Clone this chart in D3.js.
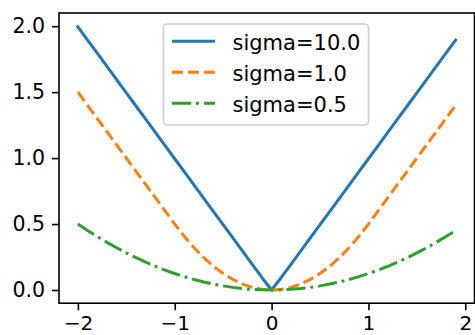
<!DOCTYPE html>
<html>
<head>
<meta charset="utf-8">
<script src="https://cdn.jsdelivr.net/npm/d3@7"></script>
<style>
  html, body { margin: 0; padding: 0; background: #fff; }
  svg { display: block; }
  text { font-family: "DejaVu Sans", sans-serif; fill: #000; }
</style>
</head>
<body>
<svg id="chart" width="475" height="335"></svg>
<script>
// ---- data ----
const xValues = [-2.0,-1.9,-1.8,-1.7,-1.6,-1.5,-1.4,-1.3,-1.2,-1.1,-1.0,-0.9,-0.8,-0.7,-0.6,-0.5,-0.4,-0.3,-0.2,-0.1,
  0.0,0.1,0.2,0.3,0.4,0.5,0.6,0.7,0.8,0.9,1.0,1.1,1.2,1.3,1.4,1.5,1.6,1.7,1.8,1.9];
const sigma10 = [1.995,1.895,1.795,1.695,1.595,1.495,1.395,1.295,1.195,1.095,0.995,0.895,0.795,0.695,0.595,0.495,0.395,0.295,0.195,0.095,
  0.0,0.095,0.195,0.295,0.395,0.495,0.595,0.695,0.795,0.895,0.995,1.095,1.195,1.295,1.395,1.495,1.595,1.695,1.795,1.895];
const sigma1 = [1.5,1.4,1.3,1.2,1.1,1.0,0.9,0.8,0.7,0.6,0.5,0.405,0.32,0.245,0.18,0.125,0.08,0.045,0.02,0.005,
  0.0,0.005,0.02,0.045,0.08,0.125,0.18,0.245,0.32,0.405,0.5,0.6,0.7,0.8,0.9,1.0,1.1,1.2,1.3,1.4];
const sigma05 = [0.5,0.45125,0.405,0.36125,0.32,0.28125,0.245,0.21125,0.18,0.15125,0.125,0.10125,0.08,0.06125,0.045,0.03125,0.02,0.01125,0.005,0.00125,
  0.0,0.00125,0.005,0.01125,0.02,0.03125,0.045,0.06125,0.08,0.10125,0.125,0.15125,0.18,0.21125,0.245,0.28125,0.32,0.36125,0.405,0.45125];
const seriesNames = ["sigma=10.0", "sigma=1.0", "sigma=0.5"];
const xTicks = [-2, -1, 0, 1, 2];
const yTicks = [0.0, 0.5, 1.0, 1.5, 2.0];

// ---- layout ----
const svg = d3.select("#chart");
const plot = { left: 59, right: 474.5, top: 13, bottom: 303.2 };
const x = d3.scaleLinear().domain([-2.195, 2.095]).range([plot.left, plot.right]);
const y = d3.scaleLinear().domain([-0.1, 2.1]).range([plot.bottom, plot.top]);

const series = [
  { name: seriesNames[0], values: sigma10, color: "#1f77b4", dash: null },
  { name: seriesNames[1], values: sigma1, color: "#ff7f0e", dash: "11.1,4.8" },
  { name: seriesNames[2], values: sigma05, color: "#2ca02c", dash: "19.2,4.8,3,4.8" }
];

const g = svg.append("g");

const line = d3.line().x((d, i) => x(xValues[i])).y(d => y(d));
series.forEach(s => {
  g.append("path")
    .datum(s.values)
    .attr("d", line)
    .attr("fill", "none")
    .attr("stroke", s.color)
    .attr("stroke-width", 3)
    .attr("stroke-linejoin", "round")
    .attr("stroke-linecap", s.dash ? "butt" : "square")
    .attr("stroke-dasharray", s.dash);
});

// ---- axes ----
const fmtX = d => d < 0 ? "\u2212" + Math.abs(d) : String(d);
const xAxis = d3.axisBottom(x).tickValues(xTicks).tickFormat(fmtX).tickSize(7).tickPadding(6);
const yAxis = d3.axisLeft(y).tickValues(yTicks).tickFormat(d3.format(".1f")).tickSize(7).tickPadding(7);

const gx = svg.append("g").attr("transform", `translate(0,${plot.bottom})`).call(xAxis);
const gy = svg.append("g").attr("transform", `translate(${plot.left},0)`).call(yAxis);
[gx, gy].forEach(a => {
  a.select(".domain").remove();
  a.selectAll(".tick line").attr("stroke", "#000").attr("stroke-width", 1.6);
  a.selectAll(".tick text").attr("font-family", "DejaVu Sans, sans-serif").attr("fill", "#000");
});
gx.selectAll(".tick text").attr("font-size", 20);
gy.selectAll(".tick text").attr("font-size", 20.5);

// spines
svg.append("rect")
  .attr("x", plot.left).attr("y", plot.top)
  .attr("width", plot.right - plot.left).attr("height", plot.bottom - plot.top)
  .attr("fill", "none").attr("stroke", "#000").attr("stroke-width", 1.6);

// ---- legend ----
const lg = svg.append("g");
lg.append("rect")
  .attr("x", 163.5).attr("y", 24).attr("width", 205).attr("height", 101)
  .attr("rx", 4).attr("ry", 4)
  .attr("fill", "#fff").attr("fill-opacity", 0.8)
  .attr("stroke", "#cccccc").attr("stroke-width", 1.6);
series.forEach((s, i) => {
  const yy = 41.3 + i * 31;
  lg.append("line")
    .attr("x1", 172).attr("x2", 215).attr("y1", yy).attr("y2", yy)
    .attr("stroke", s.color).attr("stroke-width", 3)
    .attr("stroke-dasharray", s.dash);
  lg.append("text")
    .attr("x", 232.5).attr("y", yy + 8.5)
    .attr("font-size", 21)
    .text(s.name);
});
</script>
</body>
</html>
